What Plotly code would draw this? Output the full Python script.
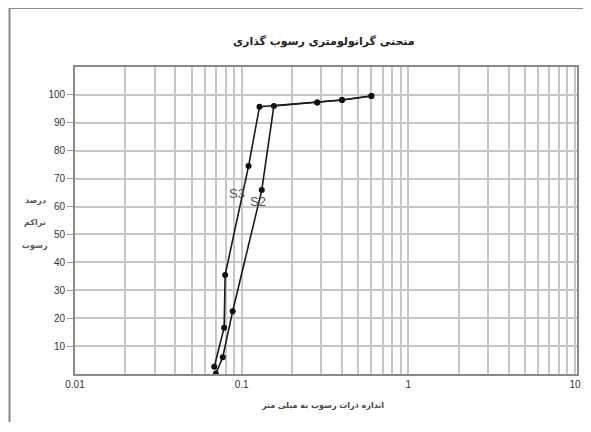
import plotly.graph_objects as go

title_text = "منحنی گرانولومتری رسوب گذاری"
x_title = "اندازه ذرات رسوب به میلی متر"
y_title_lines = ["درصد", "تراکم", "رسوب"]

s3_size = [0.0685, 0.0785, 0.0796, 0.110, 0.128, 0.284, 0.40, 0.60]
s3_pct = [2.6, 16.6, 35.5, 74.5, 95.8, 97.3, 98.2, 99.6]

s2_size = [0.070, 0.077, 0.0883, 0.132, 0.156, 0.284, 0.40, 0.60]
s2_pct = [0.2, 6.0, 22.5, 65.9, 96.0, 97.3, 98.2, 99.6]

decades = [0.01, 0.1, 1, 10]
decade_labels = ["0.01", "0.1", "1", "10"]
y_ticks = [10, 20, 30, 40, 50, 60, 70, 80, 90, 100]

grid_vals = []
grid_text = []
for i, d in enumerate(decades[:-1]):
    for m in range(1, 10):
        grid_vals.append(round(d * m, 6))
        grid_text.append(decade_labels[i] if m == 1 else "")
grid_vals.append(decades[-1])
grid_text.append(decade_labels[-1])

fig = go.Figure()
line_style = dict(color="#1a1a1a", width=1.6)
marker_style = dict(color="#111", size=6)
fig.add_trace(go.Scatter(x=s3_size, y=s3_pct, mode="lines+markers",
                         line=line_style, marker=marker_style, name="S3"))
fig.add_trace(go.Scatter(x=s2_size, y=s2_pct, mode="lines+markers",
                         line=line_style, marker=marker_style, name="S2"))

grid_color = "#c6c6c6"
fig.update_xaxes(type="log", range=[-2, 1.012], tickvals=grid_vals, ticktext=grid_text,
                 showgrid=True, gridcolor=grid_color, gridwidth=1.6,
                 showline=True, linecolor="#8a8a8a", linewidth=1.6, mirror=True,
                 ticks="", zeroline=False, ticklabeloverflow="allow",
                 tickfont=dict(family="Liberation Sans", size=10, color="#333"))
fig.update_yaxes(range=[0, 110], tickvals=y_ticks,
                 showgrid=True, gridcolor=grid_color, gridwidth=1.6,
                 showline=True, linecolor="#8a8a8a", linewidth=1.6, mirror=True,
                 ticks="outside", ticklen=6, tickcolor="#999", tickwidth=1,
                 zeroline=False,
                 tickfont=dict(family="Liberation Sans", size=10, color="#333"))

PW = 506
def px(sx):
    return (sx - 75) / PW

def py(sy):
    return (374 - sy) / 307

fig.add_annotation(text="<b>" + title_text + "</b>", xref="paper", yref="paper",
                   x=px(326), y=py(42), xanchor="center", yanchor="middle", showarrow=False,
                   font=dict(family="DejaVu Sans", size=11, color="#222"))
fig.add_annotation(text="<b>" + x_title + "</b>", xref="paper", yref="paper",
                   x=px(324), y=py(405), xanchor="center", yanchor="middle", showarrow=False,
                   font=dict(family="DejaVu Sans", size=8, color="#444"))
for i, t in enumerate(y_title_lines):
    fig.add_annotation(text="<b>" + t + "</b>", xref="paper", yref="paper",
                       x=px(35), y=py(200 + 22.5 * i), xanchor="center", yanchor="middle",
                       showarrow=False,
                       font=dict(family="DejaVu Sans", size=8, color="#555"))
fig.add_annotation(text="S3", xref="paper", yref="paper", x=px(238), y=py(193),
                   xanchor="center", yanchor="middle", showarrow=False,
                   font=dict(family="Liberation Sans", size=13, color="#555"))
fig.add_annotation(text="S2", xref="paper", yref="paper", x=px(259), y=py(201),
                   xanchor="center", yanchor="middle", showarrow=False,
                   font=dict(family="Liberation Sans", size=13, color="#555"))

fig.add_shape(type="rect", xref="paper", yref="paper",
              x0=px(9), x1=px(640), y0=py(480), y1=py(8),
              line=dict(color="#8a8a8a", width=2), layer="below")

fig.update_layout(width=575, height=414, margin=dict(l=67, r=2, t=59, b=48),
                  paper_bgcolor="white", plot_bgcolor="white", showlegend=False)
fig.write_html("out.html")
